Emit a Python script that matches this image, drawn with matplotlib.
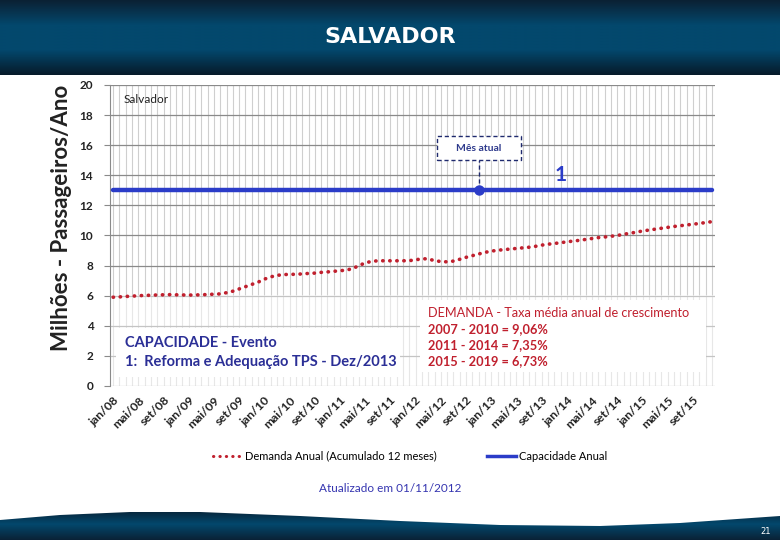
import matplotlib
matplotlib.use("Agg")
import matplotlib.pyplot as plt
import numpy as np
from matplotlib.patches import Rectangle, Polygon
from matplotlib.lines import Line2D
from matplotlib.colors import LinearSegmentedColormap

W, H = 780, 540

months = ['jan', 'fev', 'mar', 'abr', 'mai', 'jun', 'jul', 'ago', 'set', 'out', 'nov', 'dez']
years = ['08', '09', '10', '11', '12', '13', '14', '15']
month_labels = [f"{m}/{y}" for y in years for m in months]

# demanda anual acumulada 12 meses (milhoes), jan/08 .. dez/15
demanda = [
    5.90, 5.92, 5.95, 5.97, 6.00, 6.02, 6.03, 6.05, 6.06, 6.07, 6.06, 6.05,
    6.04, 6.05, 6.06, 6.08, 6.10, 6.12, 6.20, 6.30, 6.45, 6.60, 6.75, 6.90,
    7.10, 7.25, 7.35, 7.40, 7.42, 7.42, 7.45, 7.48, 7.50, 7.55, 7.58, 7.62,
    7.66, 7.70, 7.80, 8.00, 8.18, 8.28, 8.32, 8.32, 8.32, 8.32, 8.32, 8.33,
    8.38, 8.46, 8.44, 8.33, 8.27, 8.25, 8.30, 8.42, 8.55, 8.66, 8.77, 8.88,
    8.96, 9.02, 9.06, 9.10, 9.14, 9.18, 9.22, 9.28, 9.36, 9.42, 9.47, 9.52,
    9.58, 9.63, 9.68, 9.74, 9.80, 9.86, 9.90, 9.95, 10.00, 10.08, 10.15, 10.22,
    10.30, 10.36, 10.42, 10.48, 10.54, 10.60, 10.65, 10.70, 10.75, 10.80, 10.86, 10.92,
]
capacidade = 13.0
mes_atual = 'nov/12'
evento = 'dez/13'
y_ticks = [0, 2, 4, 6, 8, 10, 12, 14, 16, 18, 20]

BLUE = '#2b3cc8'
RED = '#c0202e'
NAVY = '#2b2f96'
FONT = ['Lato', 'DejaVu Sans']

plt.rcParams['font.family'] = FONT


def fx(x):
    return x / W


def fy(y):
    return 1 - y / H


fig = plt.figure(figsize=(W / 100, H / 100), dpi=100)
fig.patch.set_facecolor('white')

# background: header band and footer wave
bg = fig.add_axes([0, 0, 1, 1], zorder=-1)
bg.set_xlim(0, W)
bg.set_ylim(H, 0)
bg.axis('off')
head_cmap = LinearSegmentedColormap.from_list('head', ['#0b2134', '#03486d', '#03486d', '#071b2a'])
grad = np.linspace(0, 1, 100).reshape(-1, 1)
bg.imshow(grad, cmap=head_cmap, extent=(0, W, 75, 0), aspect='auto')
foot_cmap = LinearSegmentedColormap.from_list('foot', ['#081d2e', '#03486d', '#0a2236'])
foot = bg.imshow(grad, cmap=foot_cmap, extent=(0, W, 540, 508), aspect='auto')
wave = Polygon([(0, 520), (60, 515), (130, 512), (200, 512), (300, 516), (400, 521),
                (500, 525), (600, 526), (680, 523), (780, 516), (780, 540), (0, 540)],
               closed=True, transform=bg.transData, facecolor='none', edgecolor='none')
bg.add_patch(wave)
foot.set_clip_path(wave)
bg.text(390, 37, 'SALVADOR', color='white', fontsize=16, fontweight='bold',
        ha='center', va='center', family='DejaVu Sans')
bg.text(771, 532, '21', color='white', fontsize=6, ha='right', va='center', family='DejaVu Sans')

# main chart
ax = fig.add_axes([fx(110), fy(386), 605 / W, 301 / H])
x = np.arange(len(month_labels))
ax.set_xlim(-0.5, len(month_labels) - 0.5)
ax.set_ylim(0, 20)
ax.set_axisbelow(True)

ax.set_xticks(x, minor=True)
ax.set_xticks(x[::4])
ax.set_xticklabels(month_labels[::4], rotation=45, ha='right', rotation_mode='anchor',
                   fontsize=8.8, fontweight='bold', color='#222222')
ax.set_yticks(y_ticks)
ax.set_yticklabels([str(v) for v in y_ticks], fontsize=8.5, fontweight='bold', color='#222222')
ax.grid(which='minor', axis='x', color='#cfcfcf', linewidth=0.8)
ax.grid(which='major', axis='x', color='#cfcfcf', linewidth=0.8)
ax.grid(which='major', axis='y', color='#8a8a8a', linewidth=0.9)
ax.tick_params(axis='x', which='both', length=0, pad=6)
ax.tick_params(axis='y', length=4, color='#8a8a8a', pad=8)
for s in ['top', 'right', 'bottom']:
    ax.spines[s].set_visible(False)
ax.spines['left'].set_color('#8a8a8a')

# washed-out lower area
ax.add_patch(Rectangle((-0.5, 0), len(month_labels), 6.05, facecolor='white',
                       alpha=0.5, edgecolor='none', zorder=1))

ax.plot(x, [capacidade] * len(x), color=BLUE, linewidth=3.2, solid_capstyle='round',
        zorder=3)
ax.plot(x, demanda, color=RED, linewidth=2.6, linestyle=(0, (0.1, 1.85)),
        dash_capstyle='round', zorder=4)

i_atual = month_labels.index(mes_atual)
ax.plot([i_atual], [capacidade], 'o', color=BLUE, markersize=6.5, zorder=5)
ax.plot([i_atual, i_atual], [capacidade, 15.0], color='#1f2a6e', linewidth=1,
        linestyle=(0, (3, 2)), zorder=4)
ax.add_patch(Rectangle((i_atual - 6.67, 15.0), 13.33, 1.6, facecolor='white',
                       edgecolor='#1f2a6e', linewidth=1, linestyle=(0, (3, 2)), zorder=5))
ax.text(i_atual, 15.8, 'Mês atual', ha='center', va='center', fontsize=7.5,
        fontweight='bold', color='#2e3a8c', zorder=6)

i_evento = month_labels.index(evento)
ax.text(i_evento, 14.05, '1', ha='center', va='center', fontsize=15, fontweight='bold',
        color=BLUE, zorder=6)

ax.text(1.7, 19.05, 'Salvador', ha='left', va='center', fontsize=8.5, color='#222222')

ax.set_ylabel('Milhões - Passageiros/Ano', fontsize=16, fontweight='bold',
              color='#222222')
ax.yaxis.set_label_coords(-0.062, 0.56)

# white annotation boxes
fig.patches.append(Rectangle((fx(116), fy(377)), 284 / W, 49 / H, transform=fig.transFigure,
                             facecolor='white', edgecolor='none', zorder=2))
fig.patches.append(Rectangle((fx(420), fy(372)), 286 / W, 72 / H, transform=fig.transFigure,
                             facecolor='white', edgecolor='none', zorder=2))
fig.text(fx(125), fy(343), 'CAPACIDADE - Evento', fontsize=10.5, fontweight='bold',
         color=NAVY, va='center', ha='left', zorder=3)
fig.text(fx(125), fy(362), '1:  Reforma e Adequação TPS - Dez/2013', fontsize=10.5,
         fontweight='bold', color=NAVY, va='center', ha='left', zorder=3)
fig.text(fx(428), fy(313), 'DEMANDA - Taxa média anual de crescimento', fontsize=9.2,
         color=RED, va='center', ha='left', zorder=3)
for k, t in enumerate(['2007 - 2010 = 9,06%', '2011 - 2014 = 7,35%', '2015 - 2019 = 6,73%']):
    fig.text(fx(428), fy(329 + 16 * k), t, fontsize=9.2, fontweight='bold',
             color=RED, va='center', ha='left', zorder=3)

# legend
handles = [Line2D([], [], color=RED, linewidth=2.2, linestyle=(0, (0.1, 2.0)),
                  dash_capstyle='round'),
           Line2D([], [], color=BLUE, linewidth=2.5)]
fig.legend(handles, ['Demanda Anual (Acumulado 12 meses)', 'Capacidade Anual'],
           loc='center', bbox_to_anchor=(fx(410), fy(456)), ncol=2, frameon=False,
           fontsize=8, handlelength=2.6, handletextpad=0.3, columnspacing=4.5)

fig.text(fx(390), fy(489), 'Atualizado em 01/11/2012', ha='center', va='center',
         fontsize=8.5, color='#3535b0')

fig.savefig('out.png', dpi=100)
